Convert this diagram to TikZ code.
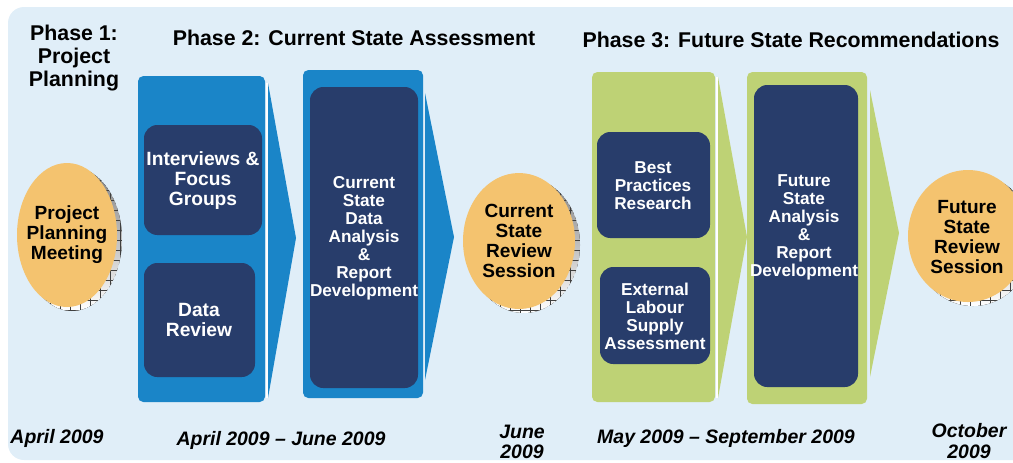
\documentclass[tikz,border=0pt]{standalone}
\usepackage{fontspec}
\setmainfont{Liberation Sans}
\usetikzlibrary{positioning,calc}

\definecolor{panel}{HTML}{E0EEF8}
\definecolor{chevblue}{HTML}{1A85C8}
\definecolor{navy}{HTML}{283D6B}
\definecolor{leaf}{HTML}{BED275}
\definecolor{peach}{HTML}{F4C36F}
\definecolor{shade}{HTML}{80888C}

\tikzset{
  heading/.style={font=\fontsize{16}{16.9}\selectfont\bfseries, align=center, inner sep=0pt},
  boxtext/.style={text=white, font=\fontsize{12.9}{13.5}\selectfont\bfseries, align=center, inner sep=0pt},
  bigboxtext/.style={boxtext, font=\fontsize{14.4}{15}\selectfont\bfseries},
  ovaltext/.style={font=\fontsize{14.3}{15}\selectfont\bfseries, align=center, inner sep=0pt},
  datetext/.style={font=\fontsize{14.6}{15.3}\selectfont\bfseries\itshape, align=center, inner sep=0pt},
  card/.style={rounded corners=4pt},
  inbox/.style={fill=navy, rounded corners=10pt},
  hatch/.style={black!75, line width=0.4pt},
}

\begin{document}
\begin{tikzpicture}[x=0.75pt,y=-0.75pt]
% Page is 1013 x 462 units, y running down
\useasboundingbox (0,0) rectangle (1013,462);
\clip (0,0) rectangle (1013,462);

% Background panel
\fill[panel, rounded corners=12pt] (8,7) rectangle (1040,460);

% Phase headings
\node[heading] (ph1) at (74,58) {Phase 1:\\Project\\Planning};
\node[heading] (ph2) at (354,38) {Phase 2: Current State Assessment};
\node[heading] (ph3) at (791,40) {Phase 3: Future State Recommendations};

% Meeting oval, with its hatched shadow
\coordinate (M) at (67,235);
\begin{scope}
  \clip ($(M)+(5,4)$) ellipse [x radius=50, y radius=72];
  \fill[shade] ($(M)+(5,4)$) ellipse [x radius=50, y radius=72];
  \draw[hatch, step=7.5pt] (0,150) grid (140,330);
\end{scope}
\fill[peach] (M) ellipse [x radius=50, y radius=72];
\node[ovaltext] (meet) at (M) {Project\\Planning\\Meeting};

% First blue chevron
\fill[chevblue, card] (138,76) rectangle (265,402);
\fill[chevblue] (268,83) -- (296,238) -- (268,398) -- cycle;
\draw[white, line width=0.8pt] (267,83) -- (267,398);
\fill[inbox] (144,125) rectangle (262,235);
\fill[inbox] (144,263) rectangle (255,377);
\node[bigboxtext] (interv) at (203,181) {Interviews \&\\Focus\\Groups};
\node[bigboxtext] (datarev) at (199,320) {Data\\Review};

% Second blue chevron
\fill[chevblue, card] (303,70) rectangle (423,398);
\fill[chevblue] (425,93) -- (454,237) -- (425,380) -- cycle;
\fill[inbox] (310,87) rectangle (418,388);
\node[boxtext] (curan) at (364,238) {Current\\State\\Data\\Analysis\\\&\\Report\\Development};

% Current state oval
\coordinate (C) at (519,241);
\begin{scope}
  \clip ($(C)+(5,4)$) ellipse [x radius=56, y radius=68];
  \fill[shade] ($(C)+(5,4)$) ellipse [x radius=56, y radius=68];
  \draw[hatch, step=7.5pt] (450,160) grid (590,320);
\end{scope}
\fill[peach] (C) ellipse [x radius=56, y radius=68];
\node[ovaltext] (currev) at (C) {Current\\State\\Review\\Session};

% First green chevron
\fill[leaf, card] (592,72) rectangle (715,402);
\fill[leaf] (718,77) -- (747,237) -- (718,398) -- cycle;
\draw[white, line width=0.8pt] (717,77) -- (717,398);
\fill[inbox] (597,132) rectangle (710,238);
\fill[inbox] (600,267) rectangle (710,364);
\node[boxtext] (best) at (653,186) {Best\\Practices\\Research};
\node[boxtext] (labour) at (655,316) {External\\Labour\\Supply\\Assessment};

% Second green chevron
\fill[leaf, card] (747,72) rectangle (867,404);
\fill[leaf] (870,90) -- (899,233) -- (870,377) -- cycle;
\fill[inbox] (754,85) rectangle (858,387);
\node[boxtext] (futan) at (804,227) {Future\\State\\Analysis\\\&\\Report\\Development};

% Future state oval
\coordinate (F) at (968,236);
\begin{scope}
  \clip ($(F)+(5,4)$) ellipse [x radius=60, y radius=66];
  \fill[shade] ($(F)+(5,4)$) ellipse [x radius=60, y radius=66];
  \draw[hatch, step=7.5pt] (900,160) grid (1040,320);
\end{scope}
\fill[peach] (F) ellipse [x radius=60, y radius=66];
\node[ovaltext] (futrev) at (967,237) {Future\\State\\Review\\Session};

% Dates along the bottom
\node[datetext] (d1) at (57,438) {April 2009};
\node[datetext] (d2) at (281,440) {April 2009 -- June 2009};
\node[datetext] (d3) at (522,442) {June\\2009};
\node[datetext] (d4) at (726,438) {May 2009 -- September 2009};
\node[datetext] (d5) at (969,441) {October\\2009};
\end{tikzpicture}
\end{document}
